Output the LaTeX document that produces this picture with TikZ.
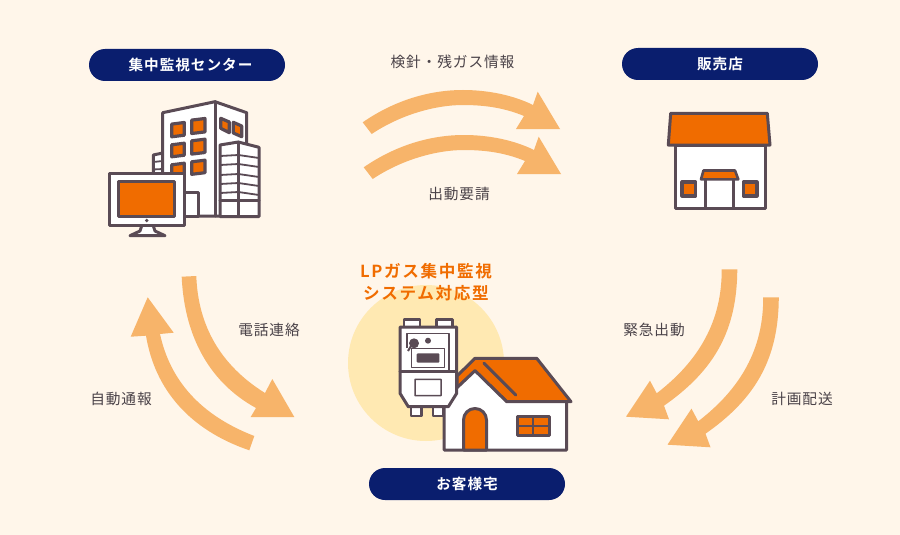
\documentclass[tikz,border=0pt]{standalone}
\usepackage{fontspec}
\setmainfont{Noto Sans CJK JP}
\newfontfamily\lbl[LetterSpace=6]{Noto Sans CJK JP}
\newfontfamily\plbl[LetterSpace=7,BoldFont={Noto Sans CJK JP Bold}]{Noto Sans CJK JP}
\newfontfamily\ttl[LetterSpace=10,BoldFont={Noto Sans CJK JP Bold}]{Noto Sans CJK JP}
\definecolor{bg}{HTML}{FFF6EA}
\definecolor{arr}{HTML}{F7B46A}
\definecolor{ink}{HTML}{5A4B55}
\definecolor{org}{HTML}{F06C00}
\definecolor{navy}{HTML}{0A1E6E}
\definecolor{halo}{HTML}{FFE9B2}
\definecolor{txt}{HTML}{4A4248}
\tikzset{
  pill/.style={fill=navy,rounded corners=16pt,minimum width=196pt,minimum height=32pt,inner sep=0pt,text=white,font=\fontsize{14.6}{16}\plbl\bfseries},
  lab/.style={text=txt,inner sep=0pt,font=\fontsize{14.7}{17}\lbl},
  arrowfill/.style={fill=arr,draw=none},
  ln/.style={draw=ink,line width=3pt,line join=round,line cap=round},
  thin/.style={draw=ink,line width=1.8pt,line join=round},
  pane/.style={draw=ink,line width=3.2pt,fill=org,line join=round},
  tabbox/.style={draw=ink,line width=2.6pt,fill=white,line join=round},
}
\begin{document}
\begin{tikzpicture}[x=1pt,y=-1pt]
\useasboundingbox (0,0) rectangle (900,535);
\fill[bg] (0,0) rectangle (900,535);
% arrows top
\foreach \dx/\dy in {0/0,1/45}{
\begin{scope}[shift={(\dx,\dy)}]
\fill[arrowfill] (362.7,122.3) .. controls (395,100) and (430,90) .. (463,90) .. controls (490,90) and (515,96) .. (533,105) -- (537.7,91.7) -- (560,129) -- (516,129) -- (524,116) .. controls (505,108) and (485,105) .. (463,105) .. controls (435,105) and (400,115) .. (371.7,134) -- cycle;
\end{scope}}
% left arrows
\fill[arrowfill] (181.7,276.7) .. controls (184,330) and (205,380) .. (256,408) -- (250.7,417) -- (294.3,417) -- (272.3,379) -- (265,393) .. controls (220,365) and (198,325) .. (196.3,276) -- cycle;
\fill[arrowfill] (254.3,436) .. controls (200,415) and (170,380) .. (160,334) -- (173.7,332.7) -- (147.7,297.3) -- (130.7,336.7) -- (146,335.7) .. controls (155,390) and (190,430) .. (249.3,450.3) -- cycle;
% right arrows
\foreach \dx/\dy in {0/0,41.5/28}{
\begin{scope}[shift={(\dx,\dy)}]
\fill[arrowfill] (721.7,269.3) .. controls (722,320) and (700,360) .. (656.7,393.3) -- (650,380.7) -- (626,416.7) -- (669,419.3) -- (664,405.7) .. controls (715,370) and (737,330) .. (737.3,269.3) -- cycle;
\end{scope}}
% pills
\node[pill] (center) at (187,65) {\hspace{7pt}集中監視センター};
\node[pill] (shop) at (720,64) {販売店};
\node[pill] (home) at (467,484) {お客様宅};
% labels
\node[lab] (l1) at (452.5,62) {検針・残ガス情報};
\node[lab] (l2) at (459,193.5) {出動要請};
\node[lab] (l3) at (269,329.5) {電話連絡};
\node[lab] (l4) at (121,398.5) {自動通報};
\node[lab] (l5) at (654,329.5) {緊急出動};
\node[lab] (l6) at (802,398.5) {計画配送};
% circle
\fill[halo] (426,363) circle (78);
\node[text=org,inner sep=0pt,align=center,font=\fontsize{16.6}{22}\ttl\bfseries] (title) at (426,282) {LPガス集中監視\\システム対応型};
% building
\path[ln,fill=white] (153.3,155) -- (162.7,153) -- (162.7,180) -- (153.3,180) -- cycle;
\draw[thin] (153.3,162) -- (162.7,161) (153.3,169.5) -- (162.7,169);
\path[ln,fill=white] (162.7,112.7) -- (215,101.7) -- (246.7,112.7) -- (246.7,216) -- (162.7,216) -- cycle;
\draw[ln] (215,101.7) -- (215,216);
\foreach \a/\b/\c/\d in {171.7/123.3/184.3/136, 191.7/119.3/205/132.7, 171.7/144/184.3/156, 191.7/140/205/153.3, 171.7/164/184.3/176, 191.7/161/205/173.5}{
\path[pane] (\a,\b+0.8) -- (\c,\b-0.8) -- (\c,\d-0.8) -- (\a,\d+0.8) -- cycle;}
\path[pane] (220.7,118.3) -- (229.3,122) -- (229.3,132.7) -- (220.7,128.3) -- cycle;
\path[pane] (233.3,122.3) -- (241.7,126) -- (241.7,136.7) -- (233.3,133) -- cycle;
\path[ln,fill=white] (184.3,192.5) -- (198.3,192.5) -- (198.3,216) -- (184.3,216) -- cycle;
\path[ln,fill=white] (220,145) -- (238.3,142) -- (259,147.3) -- (259,216.5) -- (220,216.5) -- cycle;
\draw[ln] (238.3,142) -- (238.3,216.5);
\foreach \y in {156,165,175,184,193}{\draw[thin] (220,\y) -- (238.3,\y-1) -- (259,\y+2);}
\draw[ln] (220,200) -- (259,200);
% monitor
\path[draw=ink,line width=3pt,fill=white,line join=round] (142,225) -- (140,231) -- (130,235.7) -- (165,235.7) -- (155,231) -- (153,225) -- cycle;
\path[ln,fill=white] (109,173.3) rectangle (184.3,225);
\path[ln,fill=org] (118.3,181) rectangle (174.3,216);
\fill[ink] (146.7,220.5) circle (1.9);
% shop
\path[ln,fill=white] (675,145) rectangle (765,208.3);
\path[ln,fill=org] (670.7,113.3) -- (767.3,113.3) -- (770,145) -- (668.3,145) -- cycle;
\draw[ln] (705.7,179.3) -- (705.7,208.3) (733.3,179.3) -- (733.3,208.3);
\path[draw=ink,line width=2.6pt,fill=org,line join=round] (703.5,170.5) -- (735,170.5) -- (738.3,179.3) -- (701,179.3) -- cycle;
\path[pane] (682,182) rectangle (695.5,196);
\path[pane] (743.5,182) rectangle (757,196);
% house
\path[ln,fill=org] (457,376) -- (475,358.3) -- (536.7,358.3) -- (571,401.7) -- (506.7,401.7) -- (475,370.7) -- (457,388) -- cycle;
\path[ln,fill=white] (444,400) -- (475,370.7) -- (506.7,401.7) -- (566.7,401.7) -- (566.7,450) -- (444,450) -- cycle;
\draw[ln] (484,363.3) -- (515.7,395);
\path[ln,fill=org] (463.5,450) -- (463.5,420) arc[start angle=180,end angle=360,radius=11.5] -- (486.5,450) -- cycle;
\path[draw=ink,line width=3pt,fill=org,line join=round] (517.5,416) rectangle (549,435.5);
\draw[draw=ink,line width=2.4pt] (533.2,416) -- (533.2,435.5) (517.5,425.7) -- (549,425.7);
% meter
\path[tabbox] (404,319.5) rectangle (420,327);
\path[tabbox] (436.5,319.5) rectangle (452.5,327);
\path[tabbox] (411,406) rectangle (421.5,416);
\path[tabbox] (433,406) rectangle (443.5,416);
\path[ln,fill=white] (400,327) -- (456.7,327) -- (456.7,393.3) -- (448.3,406.7) -- (408.3,406.7) -- (400,393.3) -- cycle;
\draw[ln] (400,371.7) -- (456.7,371.7);
\draw[draw=ink,line width=1.5pt,line join=round] (407,348) -- (407,333.5) -- (449,333.5) -- (449,371);
\draw[draw=ink,line width=1.5pt,line join=round,fill=white] (411.7,348.3) rectangle (444.3,367.3);
\fill[ink,rounded corners=1pt] (416.7,353.3) rectangle (439.3,362.7);
\fill[ink] (414,343.3) circle (5);
\draw[ink,line width=2pt] (411,346) -- (408,351);
\fill[ink] (428,340.7) circle (3);
\path[draw=ink,line width=1.5pt,fill=white,rounded corners=0.5pt] (415,379.3) rectangle (441,395.7);
\end{tikzpicture}
\end{document}
